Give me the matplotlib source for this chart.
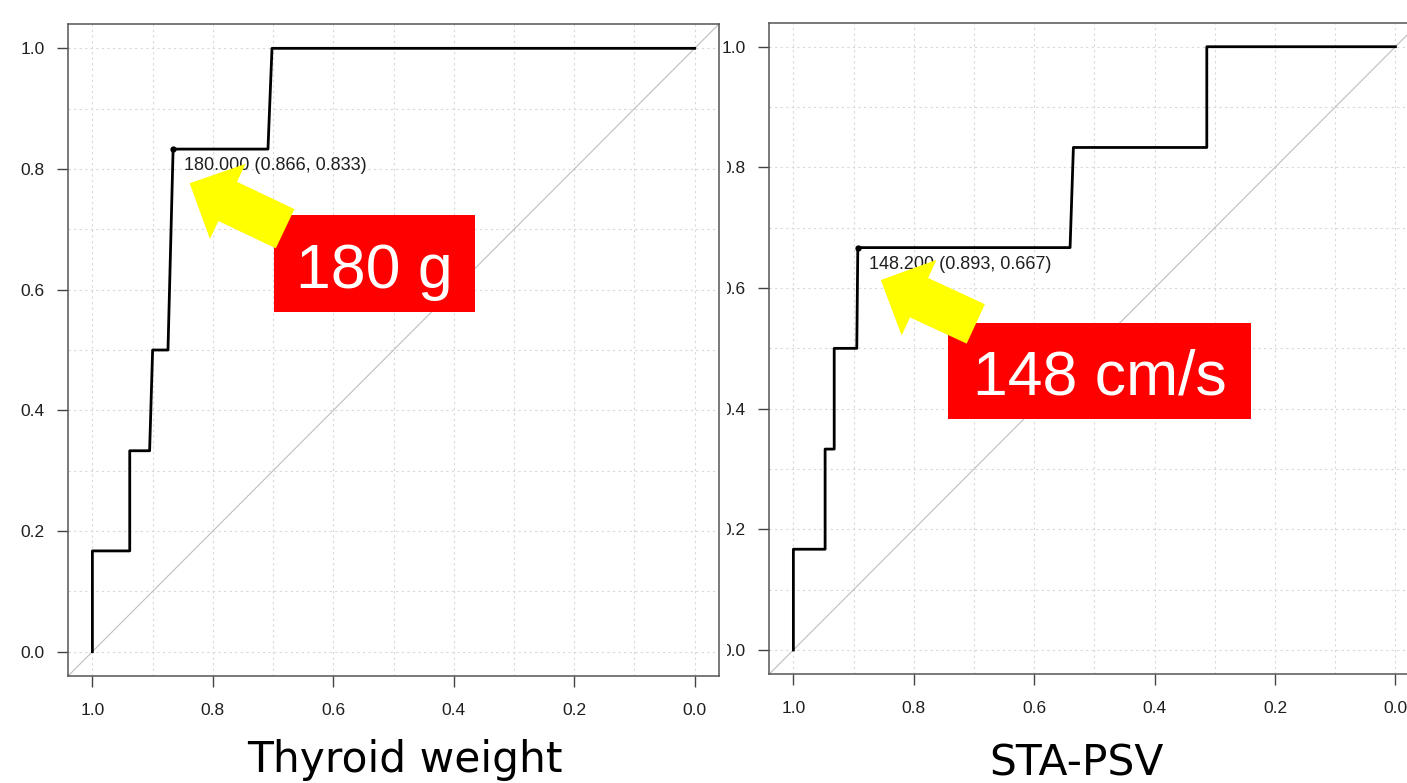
import numpy as np
import matplotlib.pyplot as plt
from matplotlib.patches import Rectangle, FancyArrow

plt.rcParams['font.family'] = ['Liberation Sans', 'DejaVu Sans']

W, H = 1407, 783  # 输出像素

# ROC 曲线顶点 (specificity, sensitivity)
thy_spec = [1.0, 1.0, 0.938, 0.938, 0.905, 0.900, 0.8745, 0.866, 0.7085, 0.7018, 0.0]
thy_sens = [0.0, 0.167, 0.167, 0.333, 0.333, 0.5, 0.5, 0.833, 0.833, 1.0, 1.0]
sta_spec = [1.0, 1.0, 0.9473, 0.9473, 0.9322, 0.9322, 0.8947, 0.893, 0.5404, 0.5349, 0.3133, 0.3133, 0.0]
sta_sens = [0.0, 0.167, 0.167, 0.333, 0.333, 0.5, 0.5, 0.667, 0.667, 0.833, 0.833, 1.0, 1.0]

# 最佳阈值 (threshold, specificity, sensitivity)
thy_best = (180.000, 0.866, 0.833)
sta_best = (148.200, 0.893, 0.667)

# 红色标签
thy_label = '180 g'
sta_label = '148 cm/s'
titles = ['Thyroid weight', 'STA-PSV']

ticks = [0.0, 0.2, 0.4, 0.6, 0.8, 1.0]
tick_labels = ['0.0', '0.2', '0.4', '0.6', '0.8', '1.0']


def px_box(x0, x1, top, bottom):
    return [x0 / W, 1 - bottom / H, (x1 - x0) / W, (bottom - top) / H]


def draw_panel(ax, spec, sens, best, label, box, arrow, text_pos):
    ax.set_xlim(1.04, -0.04)
    ax.set_ylim(-0.04, 1.04)
    for v in np.arange(0, 1.01, 0.1):
        ax.axvline(v, color='#D8D8D8', lw=0.8, ls=(0, (2, 3)), zorder=1)
        ax.axhline(v, color='#D8D8D8', lw=0.8, ls=(0, (2, 3)), zorder=1)
    # 对角线
    ax.plot([1.04, -0.04], [-0.04, 1.04], color='#BEBEBE', lw=0.8, zorder=2)
    ax.plot(spec, sens, color='black', lw=2.0, zorder=3)

    thr, bx, by = best
    ax.plot(bx, by, 'o', ms=3.5, color='black', zorder=4)
    ax.annotate(f'{thr:.3f} ({bx:.3f}, {by:.3f})', xy=(bx, by), xytext=(11, -21),
                textcoords='offset pixels', ha='left', va='baseline',
                fontsize=13, color='#1f1f1f', zorder=4)

    # 红框 + 黄箭头
    (sx0, sx1), (sy0, sy1) = box
    ax.add_patch(Rectangle((sx1, sy0), sx0 - sx1, sy1 - sy0, facecolor='#FF0000',
                           edgecolor='none', zorder=5))
    (tx, ty), (hx, hy) = arrow
    ax.add_patch(FancyArrow(tx, ty, hx - tx, hy - ty, width=0.072, head_width=0.138,
                            head_length=0.07, length_includes_head=True,
                            facecolor='#FFFF00', edgecolor='none', zorder=6))
    ax.text(text_pos[0], text_pos[1], label, ha='center', va='baseline',
            fontsize=45, color='white', zorder=7)

    ax.set_xticks(ticks)
    ax.set_xticklabels(tick_labels)
    ax.set_yticks(ticks)
    ax.set_yticklabels(tick_labels)
    ax.tick_params(axis='both', length=7.6, width=1.0, color='#444444',
                   labelsize=12.5, labelcolor='#1f1f1f')
    ax.tick_params(axis='x', pad=12)
    ax.tick_params(axis='y', pad=9.5)
    for s in ax.spines.values():
        s.set_color('#555555')
        s.set_linewidth(1.1)


fig = plt.figure(figsize=(W / 100, H / 100), dpi=100)

ax1 = fig.add_axes(px_box(68.3, 718.8, 24.2, 675.8))
draw_panel(ax1, thy_spec, thy_sens, thy_best, thy_label,
           box=((0.6985, 0.3653), (0.5635, 0.7237)),
           arrow=((0.680, 0.701), (0.8385, 0.7763)),
           text_pos=(0.532, 0.6023))

ax2 = fig.add_axes(px_box(769.3, 1419.5, 22.6, 674.1))
draw_panel(ax2, sta_spec, sta_sens, sta_best, sta_label,
           box=((0.7425, 0.2402), (0.3824, 0.5425)),
           arrow=((0.697, 0.5405), (0.8548, 0.6133)),
           text_pos=(0.4914, 0.4227))

# 右图 y 轴标签被左图遮住一部分
fig.add_artist(Rectangle((720 / W, 1 - 690 / H), 6.5 / W, 620 / H, transform=fig.transFigure,
                         facecolor='white', edgecolor='none', zorder=10))

fig.text(405 / W, 1 - 772 / H, titles[0], ha='center', va='baseline',
         fontsize=30.5, family='DejaVu Sans')
fig.text(1076 / W, 1 - 776 / H, titles[1], ha='center', va='baseline',
         fontsize=30.5, family='DejaVu Sans')

fig.savefig('out.png', dpi=100)
